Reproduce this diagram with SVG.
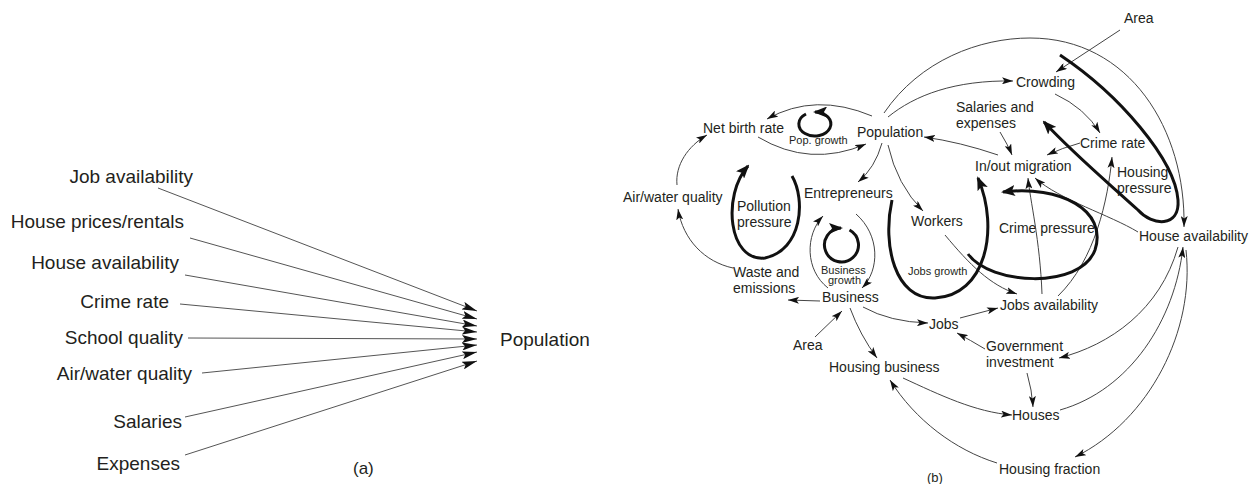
<svg xmlns="http://www.w3.org/2000/svg" width="1255" height="484" viewBox="0 0 1255 484">
<style>
text{font-family:"Liberation Sans",Arial,sans-serif;fill:#231f20}
.l{font-size:19px}
.r{font-size:14px}
.s{font-size:11px}
.ln{fill:none;stroke:#444;stroke-width:1}
.th{fill:none;stroke:#111;stroke-width:3}
</style>
<defs>
<marker id="la" viewBox="0 0 15 8" refX="15" refY="4" markerWidth="15" markerHeight="8" markerUnits="userSpaceOnUse" orient="auto"><path d="M0,0 L15,4 L0,8 L3,4 z" fill="#111"/></marker>
<marker id="ta" viewBox="0 0 11 7" refX="11" refY="3.5" markerWidth="11" markerHeight="7" markerUnits="userSpaceOnUse" orient="auto"><path d="M0,0 L11,3.5 L0,7 L2.5,3.5 z" fill="#111"/></marker>
<marker id="ka" viewBox="0 0 14 11" refX="12" refY="5.5" markerWidth="14" markerHeight="11" markerUnits="userSpaceOnUse" orient="auto"><path d="M0,0 L14,5.5 L0,11 L3,5.5 z" fill="#111"/></marker>
</defs>

<!-- (a) -->
<g id="a-job"><text class="l" x="193" y="183" text-anchor="end">Job availability</text></g>
<g id="a-prices"><text class="l" x="184" y="228" text-anchor="end">House prices/rentals</text></g>
<g id="a-house"><text class="l" x="179" y="269" text-anchor="end">House availability</text></g>
<g id="a-crime"><text class="l" x="169" y="308" text-anchor="end">Crime rate</text></g>
<g id="a-school"><text class="l" x="183" y="344" text-anchor="end">School quality</text></g>
<g id="a-air"><text class="l" x="192" y="380" text-anchor="end">Air/water quality</text></g>
<g id="a-salaries"><text class="l" x="182" y="428" text-anchor="end">Salaries</text></g>
<g id="a-expenses"><text class="l" x="180" y="470" text-anchor="end">Expenses</text></g>
<g id="a-population"><text class="l" x="500" y="346">Population</text></g>
<g id="a-label"><text x="353" y="474" style="font-size:17px">(a)</text></g>
<g id="a-connectors" stroke="#555" stroke-width="1" fill="none" marker-end="url(#la)">
<path d="M158 188 L477 311"/>
<path d="M190 238 L477 319"/>
<path d="M185 275 L477 326"/>
<path d="M180 304 L477 332"/>
<path d="M188 338 L477 339"/>
<path d="M202 373 L477 345"/>
<path d="M185 417 L477 352"/>
<path d="M185 455 L477 361"/>
</g>

<!-- (b) nodes -->
<g id="b-netbirth"><text class="r" x="703" y="133">Net birth rate</text></g>
<g id="b-popgrowth"><text class="s" x="789" y="144">Pop. growth</text></g>
<g id="b-population"><text class="r" x="857" y="137">Population</text></g>
<g id="b-air"><text class="r" x="623" y="202">Air/water quality</text></g>
<g id="b-pollution"><text class="r" x="737" y="211">Pollution</text><text class="r" x="737" y="227">pressure</text></g>
<g id="b-entrepreneurs"><text class="r" x="804" y="198">Entrepreneurs</text></g>
<g id="b-workers"><text class="r" x="911" y="226">Workers</text></g>
<g id="b-waste"><text class="r" x="733" y="277">Waste and</text><text class="r" x="733" y="293">emissions</text></g>
<g id="b-bgrowth"><text class="s" x="821" y="274">Business</text><text class="s" x="828" y="284">growth</text></g>
<g id="b-business"><text class="r" x="822" y="302">Business</text></g>
<g id="b-jobsgrowth"><text class="s" x="908" y="275">Jobs growth</text></g>
<g id="b-area2"><text class="r" x="793" y="350">Area</text></g>
<g id="b-housingbusiness"><text class="r" x="829" y="372">Housing business</text></g>
<g id="b-area1"><text class="r" x="1124" y="23">Area</text></g>
<g id="b-crowding"><text class="r" x="1016" y="87">Crowding</text></g>
<g id="b-salaries"><text class="r" x="956" y="112">Salaries and</text><text class="r" x="956" y="128">expenses</text></g>
<g id="b-crimerate"><text class="r" x="1080" y="148">Crime rate</text></g>
<g id="b-migration"><text class="r" x="975" y="171">In/out migration</text></g>
<g id="b-housingpressure"><text class="r" x="1117" y="177">Housing</text><text class="r" x="1117" y="193">pressure</text></g>
<g id="b-crimepressure"><text class="r" x="999" y="233">Crime pressure</text></g>
<g id="b-houseavail"><text class="r" x="1139" y="241">House availability</text></g>
<g id="b-jobsavail"><text class="r" x="1000" y="310">Jobs availability</text></g>
<g id="b-jobs"><text class="r" x="929" y="329">Jobs</text></g>
<g id="b-government"><text class="r" x="986" y="351">Government</text><text class="r" x="986" y="367">investment</text></g>
<g id="b-houses"><text class="r" x="1012" y="420">Houses</text></g>
<g id="b-housingfraction"><text class="r" x="999" y="474">Housing fraction</text></g>
<g id="b-label"><text x="927" y="482" style="font-size:13px">(b)</text></g>

<!-- (b) connectors -->
<g id="b-connectors">
<g class="ln" marker-end="url(#ta)">
<path d="M872 116 Q815 92 767 119"/>
<path d="M758 137 Q810 168 866 144"/>
<path d="M677 185 C675 165 688 146 707 135"/>
<path d="M733 268 C705 262 683 240 678 209"/>
<path d="M820 301 L788 300"/>
<path d="M815 337 L842 311"/>
<path d="M850 308 Q860 335 877 358"/>
<path d="M863 307 Q890 322 928 323"/>
<path d="M828 288 C805 270 805 235 823 216"/>
<path d="M856 214 C880 235 880 270 862 288"/>
<path d="M882 143 Q875 168 858 182"/>
<path d="M888 145 Q897 185 923 211"/>
<path d="M888 117 C915 95 955 80 1013 81"/>
<path d="M884 113 C920 60 980 38 1030 38 C1130 38 1186 130 1184 227"/>
<path d="M1120 30 L1056 72"/>
<path d="M1055 94 Q1085 108 1100 133"/>
<path d="M1080 143 Q1062 148 1047 155"/>
<path d="M1000 132 Q1008 145 1012 155"/>
<path d="M998 155 Q960 142 924 137"/>
<path d="M1138 232 C1110 215 1060 200 1035 178"/>
<path d="M1042 294 C1040 240 1030 200 1028 178"/>
<path d="M1058 296 C1095 260 1108 200 1112 157"/>
<path d="M945 235 C970 265 990 285 1017 294"/>
<path d="M960 318 L998 308"/>
<path d="M985 349 Q970 340 957 333"/>
<path d="M1027 373 Q1032 390 1033 407"/>
<path d="M1178 247 C1160 310 1110 345 1059 358"/>
<path d="M1060 410 C1130 390 1175 320 1183 247"/>
<path d="M1186 250 C1195 330 1150 420 1075 457"/>
<path d="M903 378 C940 395 975 412 1012 415"/>
<path d="M997 463 C955 450 915 420 890 380"/>
</g>
<g class="th" marker-end="url(#ka)">
<path d="M806 114 A16 12 0 1 0 815 112"/>
<path d="M849.5 230 A17 17 0 1 1 841 228"/>
<path d="M792 176 C806 200 802 250 765 258 C728 262 722 195 748 166"/>
<path d="M892 200 C882 245 895 300 935 298 C985 296 1000 230 978 178"/>
<path d="M968 254 C990 285 1080 290 1095 250 C1108 210 1060 185 1003 192"/>
<path d="M1060 55 C1120 95 1175 160 1178 200 C1180 228 1152 226 1138 210 C1105 180 1075 155 1044 122"/>
</g>
</g>
</svg>
